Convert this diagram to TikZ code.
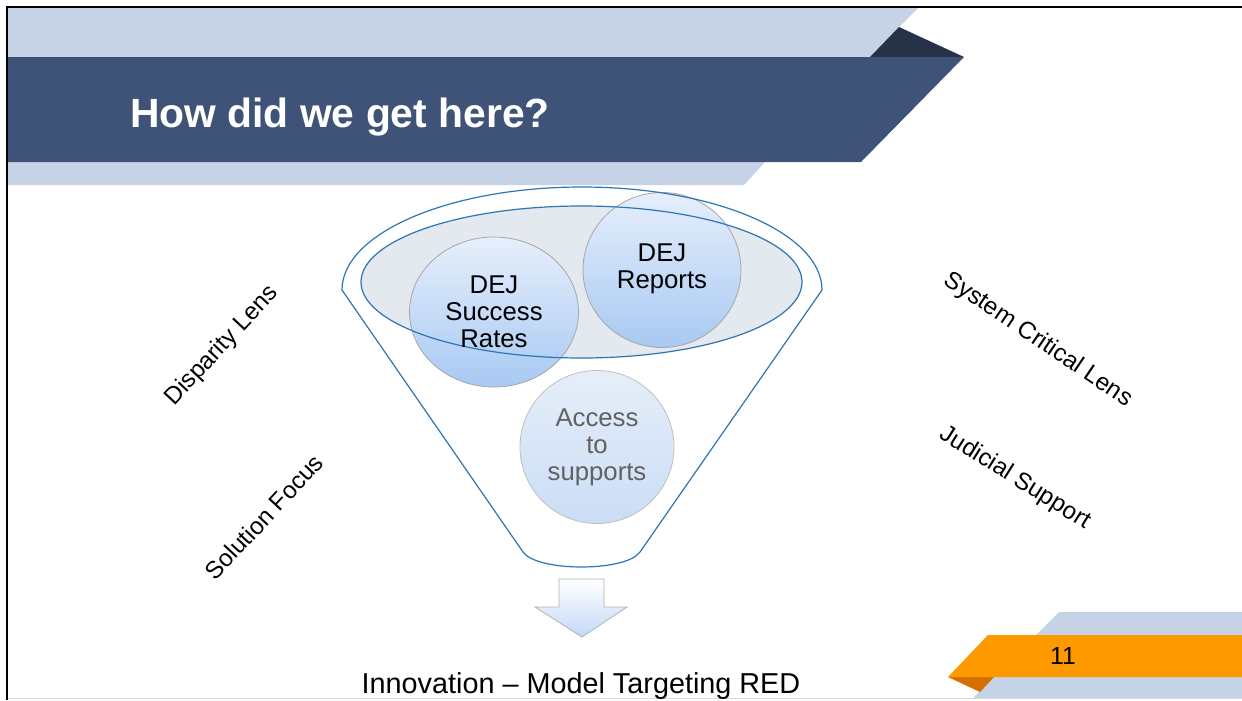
\documentclass[tikz,border=0pt]{standalone}
\usepackage{fontspec}
\setmainfont{Liberation Sans}
\usetikzlibrary{positioning}
\usetikzlibrary{shapes.geometric}
\definecolor{bandLight}{HTML}{C6D3E6}
\definecolor{bandDark}{HTML}{3F5378}
\definecolor{bandNight}{HTML}{263248}
\definecolor{tabOrange}{HTML}{FF9900}
\definecolor{tabShadow}{HTML}{D46F00}
\definecolor{funnelLine}{HTML}{2E75B6}
\definecolor{funnelFill}{HTML}{E4E8EF}
\definecolor{bubbleTop}{HTML}{E6EFFB}
\definecolor{bubbleBottom}{HTML}{A8C9F3}
\definecolor{paleTop}{HTML}{E6EEF9}
\definecolor{paleBottom}{HTML}{CADDF6}
\tikzset{
    bubble/.style={ellipse, draw=gray!70, line width=0.6pt, inner sep=0pt,
        top color=bubbleTop, bottom color=bubbleBottom},
    paleBubble/.style={ellipse, draw=gray!50, line width=0.6pt, inner sep=0pt,
        top color=paleTop, bottom color=paleBottom},
    bubbleText/.style={align=center, font=\fontsize{19.3}{20.3}\selectfont},
    lens/.style={font=\fontsize{18.2}{22}\selectfont, anchor=center},
    funnelEdge/.style={draw=funnelLine, line width=0.9pt}
}

\begin{document}
\begin{tikzpicture}[x=0.75pt, y=-0.75pt]
			\useasboundingbox (0,0) rectangle (1242,700);
			\fill[white] (0,0) rectangle (1242,700);
			% title banner
			\fill[bandLight] (8,8) -- (918,8) -- (870,57) -- (8,57) -- cycle;
			\fill[bandLight] (8,162) -- (765,162) -- (744,185) -- (8,185) -- cycle;
			\fill[bandNight] (870,57) -- (899,27) -- (964,57) -- cycle;
			\fill[bandDark] (8,57) -- (964,57) -- (861,162) -- (8,162) -- cycle;
			\node[anchor=base west, inner xsep=0pt, text=white, font=\fontsize{30.6}{36}\selectfont\bfseries] (title) at (130,127) {How did we get here?};
			% page tab
			\fill[bandLight] (1059,612) -- (1242,612) -- (1242,698) -- (973,698) -- cycle;
			\fill[tabShadow] (948,677) -- (994,677) -- (980,692) -- cycle;
			\fill[tabOrange] (988,635) -- (1242,635) -- (1242,677) -- (948,677) -- cycle;
			\node[font=\fontsize{18.5}{22}\selectfont] (page) at (1063,656) {11};
			% frame
			\draw[line width=2.2pt] (7,700) -- (7,7) -- (1242,7);
			\draw[gray!30, line width=1pt] (8,698.5) -- (1242,698.5);
			% funnel
			\fill[funnelFill] (581.5,282) ellipse [x radius=220.5, y radius=76];
			\node[bubble, minimum width=126.75pt, minimum height=112.5pt] (rates) at (494,312) {};
			\node[bubble, minimum width=118.5pt, minimum height=116.25pt] (reports) at (662,270) {};
			\node[paleBubble, minimum width=115.5pt, minimum height=114.75pt] (supports) at (597,447) {};
			\draw[funnelEdge] (581.5,282) ellipse [x radius=220.5, y radius=76];
			\draw[funnelEdge] (342,290) arc [start angle=180, end angle=360, x radius=240, y radius=103]
				-- (640,552) .. controls (626,572) and (537,572) .. (523,552) -- cycle;
			\node[bubbleText] (ratesText) at (rates.center) {DEJ\\Success\\Rates};
			\node[bubbleText] at ([yshift=1pt]reports.center) (reportsText) {DEJ\\Reports};
			\node[bubbleText, text=black!62] (supportsText) at (supports.center) {Access\\to\\supports};
			% arrow out of the funnel
			\draw[gray!60, line width=0.6pt, top color=white, bottom color=bubbleBottom!70]
				(559,579) -- (604,579) -- (604,607) -- (627,607) -- (582,637) -- (535,607) -- (559,607) -- cycle;
			\node[anchor=base, font=\fontsize{21.6}{26}\selectfont] (outcome) at (581,693) {Innovation -- Model Targeting RED};
			% lenses
			\node[lens, rotate=47] (disparity) at (222,346) {Disparity Lens};
			\node[lens, rotate=47] (solution) at (264,517) {Solution Focus};
			\node[lens, rotate=-34] (critical) at (1038,340) {System Critical Lens};
			\node[lens, rotate=-32] (judicial) at (1015,478) {Judicial Support};
\end{tikzpicture}
\end{document}
